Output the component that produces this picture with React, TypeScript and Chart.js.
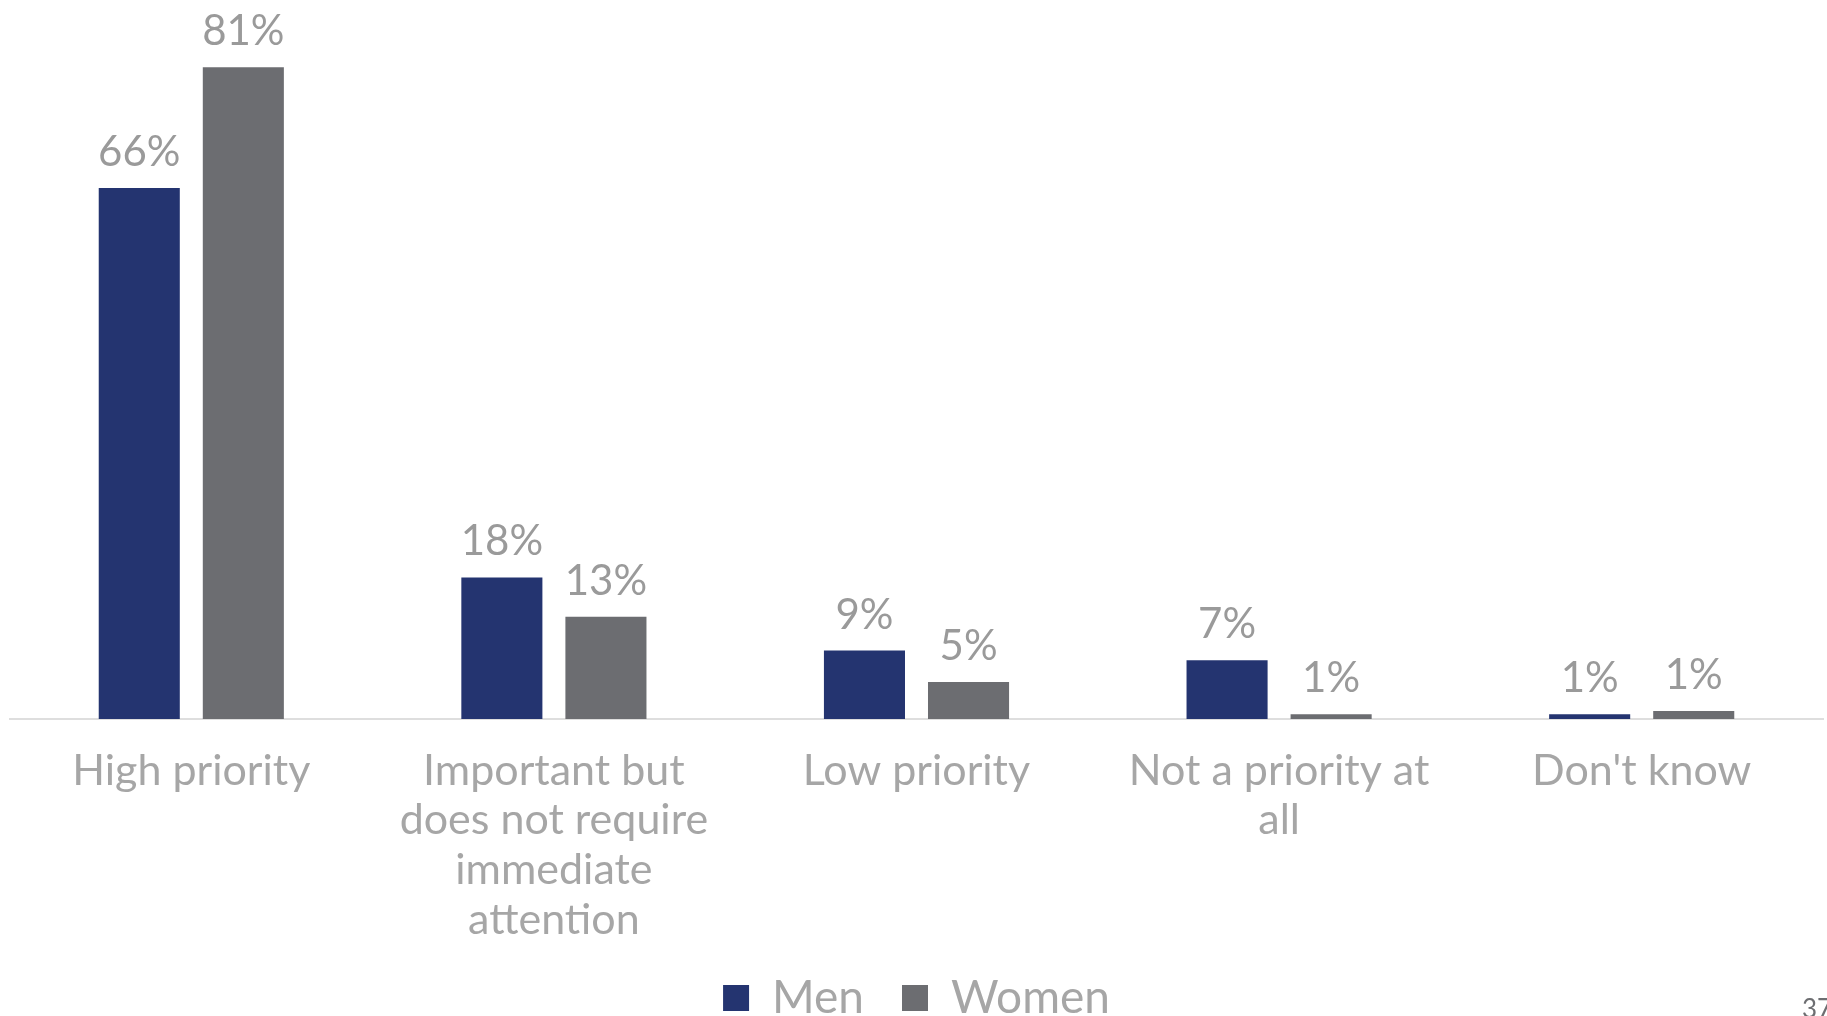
import React, { useEffect, useRef } from "react";
import { Chart, registerables } from "chart.js";

Chart.register(...registerables);

const categories: string[][] = [
  ["High priority"],
  ["Important but", "does not require", "immediate", "attention"],
  ["Low priority"],
  ["Not a priority at", "all"],
  ["Don't know"],
];
const seriesNames = ["Men", "Women"];
const menValues = [66, 17.6, 8.5, 7.3, 0.6];
const womenValues = [81, 12.7, 4.6, 0.6, 1.0];

const MEN_COLOR = "#243470";
const WOMEN_COLOR = "#6c6d71";

const dataLabelPlugin = {
  id: "dataLabels",
  afterDatasetsDraw(chart: any) {
    const ctx = chart.ctx;
    ctx.save();
    ctx.font = "42px Lato";
    ctx.fillStyle = "#9a9a9a";
    ctx.textAlign = "center";
    ctx.textBaseline = "alphabetic";
    chart.data.datasets.forEach((ds: any, di: number) => {
      const meta = chart.getDatasetMeta(di);
      meta.data.forEach((el: any, i: number) => {
        const v = ds.data[i] as number;
        ctx.fillText(Math.round(v) + "%", el.x, el.y - 22);
      });
    });
    ctx.restore();
  },
};

export default function App() {
  const ref = useRef<HTMLCanvasElement | null>(null);
  useEffect(() => {
    if (!ref.current) return;
    const chart = new Chart(ref.current, {
      type: "bar",
      data: {
        labels: categories,
        datasets: [
          {
            label: seriesNames[0],
            data: menValues,
            backgroundColor: MEN_COLOR,
            categoryPercentage: 0.574,
            barPercentage: 0.779,
          },
          {
            label: seriesNames[1],
            data: womenValues,
            backgroundColor: WOMEN_COLOR,
            categoryPercentage: 0.574,
            barPercentage: 0.779,
          },
        ],
      },
      options: {
        animation: false,
        responsive: false,
        maintainAspectRatio: false,
        layout: { padding: { left: 10, right: 4, top: 11, bottom: 0 } },
        plugins: {
          legend: {
            display: true,
            position: "bottom",
            labels: {
              boxWidth: 26,
              boxHeight: 26,
              color: "#a6a6a6",
              font: { family: "Lato", size: 46 },
              padding: 38,
            },
          },
          tooltip: { enabled: false },
        },
        scales: {
          x: {
            grid: { display: false, drawTicks: false },
            border: { display: true, color: "#dedede", width: 2 },
            ticks: {
              color: "#a6a6a6",
              font: { family: "Lato", size: 43, lineHeight: 1.156 },
              padding: 27,
              maxRotation: 0,
              autoSkip: false,
            },
            afterFit: (scale: any) => {
              scale.height = 218;
            },
          },
          y: {
            display: false,
            min: 0,
            max: 88,
          },
        },
      },
      plugins: [dataLabelPlugin],
    });
    return () => chart.destroy();
  }, []);

  return (
    <div
      style={{
        position: "fixed",
        left: 0,
        top: 0,
        width: 1827,
        height: 1016,
        overflow: "hidden",
        background: "#ffffff",
      }}
    >
      <canvas ref={ref} width={1827} height={1031} style={{ display: "block" }} />
      <span
        style={{
          position: "absolute",
          left: 1802,
          top: 995,
          fontFamily: "Lato",
          fontSize: 26,
          lineHeight: 1,
          color: "#6d6e71",
        }}
      >
        37
      </span>
    </div>
  );
}
